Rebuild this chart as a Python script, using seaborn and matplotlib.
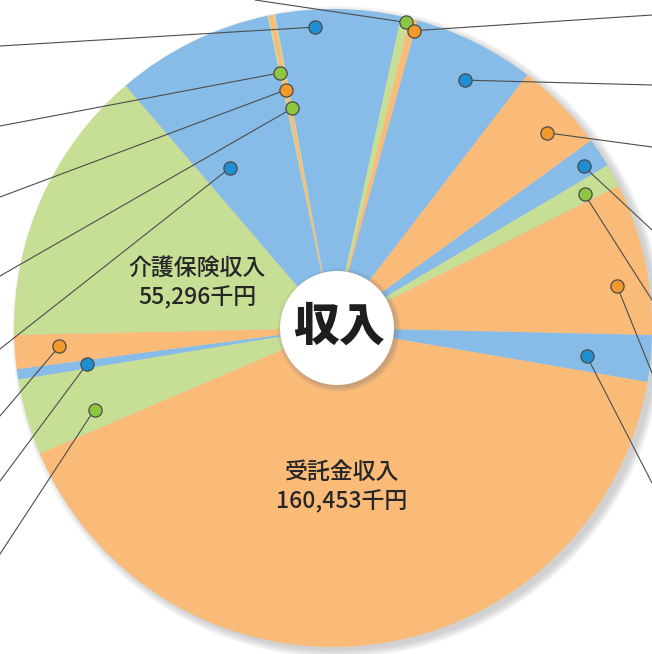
import matplotlib
matplotlib.use('Agg')
import matplotlib.pyplot as plt
from matplotlib.patches import Circle
import numpy as np
import seaborn as sns

sns.set_theme(style='white')
plt.rcParams['font.family'] = ['Noto Sans CJK JP', 'DejaVu Sans']

# 収入の内訳（千円）: 受託金収入・介護保険収入以外の項目名は画像外
items = ['', '', '', '', '', '', '', '', '受託金収入', '', '', '', '介護保険収入', '', '', '', '', '']
values = [1850, 1520, 24150, 17950, 5870, 4570, 30240, 9250, 160453,
          15120, 2070, 6740, 55296, 31330, 270, 980, 270, 24800]
kinds = ['g', 'o', 'b', 'o', 'b', 'g', 'o', 'b', 'o',
         'g', 'b', 'o', 'g', 'b', 'g', 'o', 'g', 'b']

fill = {'b': '#86bce7', 'o': '#fabb78', 'g': '#c6df95'}
dot = {'b': '#1f8fd3', 'o': '#f2992c', 'g': '#8dc641'}

# 引き出し線の点（くさび内の位置）と線の行き先（画像ピクセル）
dot_frac = [0.7, 0.9, 0.57, 0.61, 0.59, 0.64, 0.65, 0.59, None,
            0.31, 0.5, 0.58, None, 0.27, 0.5, 0.5, 0.5, 0.31]
dot_r = [0.985, 0.966, 0.88, 0.907, 0.935, 0.893, 0.90, 0.80, None,
         0.79, 0.78, 0.86, None, 0.597, 0.817, 0.761, 0.70, 0.945]
line_end = [(255, 0), (652, 15), (652, 85), (652, 147), (652, 230), (652, 300),
            (652, 373), (652, 483), None, (0, 554), (0, 481), (0, 416), None,
            (0, 349), (0, 126), (0, 197), (0, 276), (0, 46)]

W, H = 652, 654
cx, cy, R = 333, H - 328, 319

fig = plt.figure(figsize=(6.52, 6.54), dpi=100)
ax = fig.add_axes([0, 0, 1, 1])

# 影
for i in range(12):
    ax.add_patch(Circle((cx + 5, cy - 4), R + 7 - i * 0.7, fc='#888888', ec='none',
                        alpha=0.035, zorder=0))

wedges, _ = ax.pie(values, colors=[fill[k] for k in kinds], startangle=90 - 12.3,
                   counterclock=False, radius=R, center=(cx, cy), frame=True,
                   wedgeprops=dict(linewidth=0, antialiased=True))
for w in wedges:
    w.set_zorder(1)

for w, k, f, r, end in zip(wedges, kinds, dot_frac, dot_r, line_end):
    if f is None:
        continue
    ang = np.deg2rad(w.theta2 - f * (w.theta2 - w.theta1))
    px = cx + R * r * np.cos(ang)
    py = cy + R * r * np.sin(ang)
    ax.plot([px, end[0]], [py, H - end[1]], color='#4d4d4d', lw=0.8, zorder=3)
    ax.plot(px, py, 'o', ms=9.5, mfc=dot[k], mec='#4a4a4a', mew=0.9, zorder=4)

# 中央の円
for i in range(8):
    ax.add_patch(Circle((337 + 2, H - 328 - 2), 57 + 5 - i * 0.7, fc='#777777', ec='none',
                        alpha=0.05, zorder=5))
ax.add_patch(Circle((337, H - 328), 57, fc='white', ec='none', zorder=6))
ax.text(339, H - 327, '収入', ha='center', va='center', fontsize=33, fontweight='heavy',
        color='#1e1e1e', zorder=7)

lab = dict(ha='center', va='center', fontsize=16.5, fontweight='medium', color='#262626')
ax.text(197, H - 268, '介護保険収入', **lab)
ax.text(197, H - 298, '{:,}千円'.format(values[12]), **lab)
ax.text(342, H - 472, '受託金収入', **lab)
ax.text(342, H - 502, '{:,}千円'.format(values[8]), **lab)

ax.set_xlim(0, W)
ax.set_ylim(0, H)
ax.set_aspect('auto')
ax.axis('off')
fig.savefig('out.png', dpi=100)
